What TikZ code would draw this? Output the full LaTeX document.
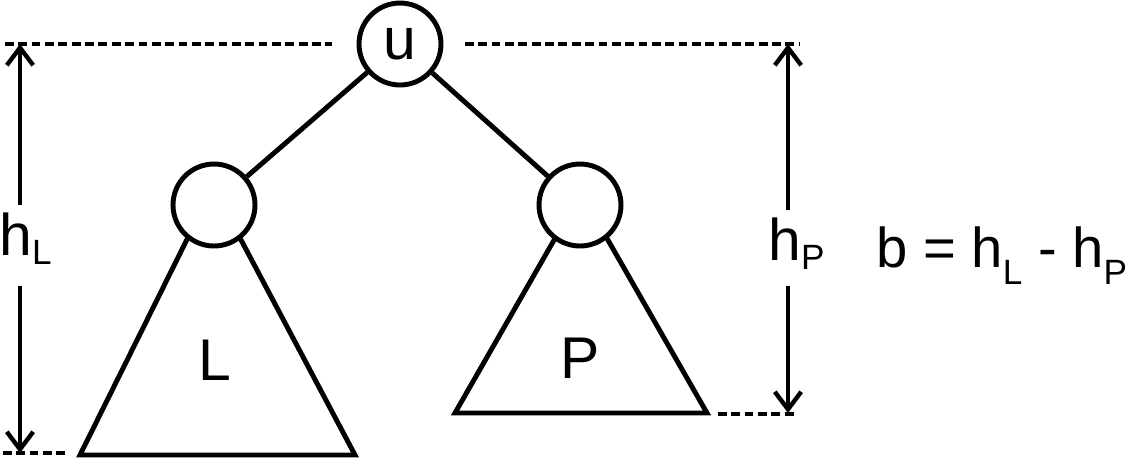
\documentclass[tikz,border=0pt]{standalone}
\usepackage{fontspec}
\setmainfont{Liberation Sans}
\usetikzlibrary{arrows.meta, positioning}
\tikzstyle{vertex} = [circle, draw=black, line width=2.8pt, fill=white, minimum size=1.64cm, inner sep=0pt]
\tikzstyle{edge} = [line width=2.8pt]
\tikzstyle{guide} = [line width=2.2pt, dash pattern=on 5pt off 2.6pt]
\tikzstyle{dim} = [line width=2.5pt, -{Straight Barb[length=10pt, width=15pt, line width=2.5pt]}]
\tikzstyle{big} = [font=\fontsize{33.5}{40}\selectfont]
\newcommand{\lowsub}[2][5.5pt]{\raisebox{-#1}{\fontsize{20}{20}\selectfont #2}}

\begin{document}
\begin{tikzpicture}[x=0.02cm, y=-0.02cm]
		\useasboundingbox (0,0) rectangle (1127,458);
		% subtrees
		\coordinate (Ltop) at (213,187);
		\coordinate (Lbl) at (80,455);
		\coordinate (Lbr) at (355,455);
		\coordinate (Ptop) at (581,193);
		\coordinate (Pbl) at (455,413);
		\coordinate (Pbr) at (707,413);
		\draw [edge] (Ltop) -- (Lbl) -- (Lbr) -- cycle;
		\draw [edge] (Ptop) -- (Pbl) -- (Pbr) -- cycle;
		\node (Root) [vertex, big] at (400,44) {u};
		\node (LeftKid) [vertex] at (214,205) {};
		\node (RightKid) [vertex] at (580,205) {};
		\draw [edge] (Root) -- (LeftKid);
		\draw [edge] (Root) -- (RightKid);
		\node (Ltext) [big] at (215,360) {L};
		\node (Ptext) [big] at (580,358) {P};
		% guide lines
		\coordinate (GuideTL) at (5,44);
		\coordinate (GuideTLend) at (332,44);
		\coordinate (GuideTR) at (465,44);
		\coordinate (GuideTRend) at (800,44);
		\coordinate (GuideBL) at (3,453);
		\coordinate (GuideBLend) at (65,453);
		\coordinate (GuideBR) at (718,414);
		\coordinate (GuideBRend) at (797,414);
		\draw [guide] (GuideTL) -- (GuideTLend);
		\draw [guide] (GuideTR) -- (GuideTRend);
		\draw [guide] (GuideBL) -- (GuideBLend);
		\draw [guide] (GuideBR) -- (GuideBRend);
		% heights
		\coordinate (hLtop) at (20,44);
		\coordinate (hLbot) at (20,453);
		\coordinate (hPtop) at (788,44);
		\coordinate (hPbot) at (788,413);
		\node (hL) [big, inner sep=4pt, anchor=base west] at (-8,255) {h\lowsub{L}};
		\node (hP) [big, inner sep=4pt, anchor=base west] at (761,260) {h\lowsub{P}};
		\draw [dim] (hL.north -| hLtop) -- (hLtop);
		\draw [dim, shorten <=8pt] (hL.south -| hLbot) -- (hLbot);
		\draw [dim] (hP.north -| hPtop) -- (hPtop);
		\draw [dim, shorten <=5pt] (hP.south -| hPbot) -- (hPbot);
		\node (Balance) [font=\fontsize{32}{38}\selectfont, inner sep=0pt, anchor=base west] at (876,267) {b = h\lowsub[10pt]{L} - h\lowsub[10pt]{P}};
\end{tikzpicture}
\end{document}
